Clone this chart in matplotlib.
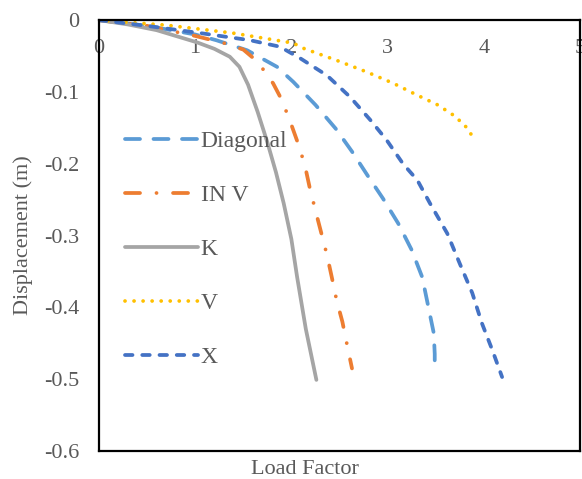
import matplotlib.pyplot as plt

plt.rcParams['font.family'] = ['Liberation Serif', 'DejaVu Serif']

TEXT_GREY = "#595959"

diagonal_x = [0, 0.5, 1.0, 1.22, 1.54, 1.85, 2.02, 2.25, 2.46, 2.63, 2.80, 2.95,
              3.11, 3.25, 3.36, 3.42, 3.48, 3.49, 3.49]
diagonal_y = [0, -0.008, -0.020, -0.028, -0.042, -0.065, -0.086, -0.118, -0.151,
              -0.183, -0.218, -0.248, -0.283, -0.320, -0.358, -0.397, -0.436,
              -0.465, -0.487]

inv_x = [0, 0.5, 1.0, 1.3, 1.5, 1.65, 1.81, 1.90, 1.99, 2.07, 2.14, 2.19, 2.25,
         2.31, 2.37, 2.42, 2.47, 2.53, 2.58, 2.63]
inv_y = [0, -0.008, -0.022, -0.032, -0.041, -0.058, -0.088, -0.111, -0.142,
         -0.172, -0.202, -0.233, -0.265, -0.296, -0.327, -0.358, -0.390, -0.420,
         -0.453, -0.485]

k_x = [0, 0.3, 0.6, 1.02, 1.2, 1.36, 1.46, 1.55, 1.65, 1.75, 1.84, 1.92, 2.0,
       2.06, 2.15, 2.26]
k_y = [0, -0.006, -0.014, -0.031, -0.040, -0.051, -0.065, -0.090, -0.128, -0.170,
       -0.212, -0.255, -0.305, -0.358, -0.430, -0.501]

v_x = [0, 0.7, 1.39, 2.02, 2.12, 2.47, 2.78, 3.06, 3.30, 3.52, 3.68, 3.80, 3.91]
v_y = [0, -0.007, -0.018, -0.032, -0.039, -0.056, -0.072, -0.088, -0.104, -0.118,
       -0.132, -0.146, -0.167]

x_x = [0, 0.5, 1.05, 1.57, 1.88, 2.09, 2.37, 2.61, 2.82, 2.99, 3.16, 3.31, 3.44,
       3.62, 3.75, 3.88, 3.98, 4.09, 4.19]
x_y = [0, -0.008, -0.018, -0.028, -0.037, -0.053, -0.077, -0.107, -0.139, -0.167,
       -0.200, -0.223, -0.255, -0.297, -0.339, -0.380, -0.422, -0.460, -0.497]

fig = plt.figure(figsize=(5.82, 4.79), dpi=100)
ax = fig.add_axes([0.170, 0.0585, 0.8266, 0.8995])

lw = 2.7
ax.plot(diagonal_x, diagonal_y, color="#5B9BD5", lw=lw, dashes=(4.0, 3.6),
        dash_capstyle="round", label="Diagonal")
ax.plot(inv_x, inv_y, color="#ED7D31", lw=lw, dashes=(4.0, 4.4, 0.01, 4.4),
        dash_capstyle="round", label="IN V")
ax.plot(k_x, k_y, color="#A5A5A5", lw=lw, solid_capstyle="round", label="K")
ax.plot(v_x, v_y, color="#FFC000", lw=lw, dashes=(0.01, 2.4),
        dash_capstyle="round", label="V")
ax.plot(x_x, x_y, color="#4472C4", lw=lw, dashes=(2.0, 2.6),
        dash_capstyle="round", label="X")

ax.set_xlim(0, 5)
ax.set_ylim(-0.6, 0)
ax.set_xticks([0, 1, 2, 3, 4, 5])
ax.set_yticks([0, -0.1, -0.2, -0.3, -0.4, -0.5, -0.6])
ax.set_yticklabels(["0", "-0.1", "-0.2", "-0.3", "-0.4", "-0.5", "-0.6"])

# x labels sit just under the top spine, Excel style
ax.tick_params(axis="x", bottom=False, labelbottom=False, top=True,
               labeltop=True, length=0, pad=-27, labelsize=16,
               labelcolor=TEXT_GREY)
ax.tick_params(axis="y", length=0, pad=14, labelsize=16, labelcolor=TEXT_GREY)

for spine in ax.spines.values():
    spine.set_color("black")
    spine.set_linewidth(1.6)

ax.set_xlabel("Load Factor", fontsize=16, color=TEXT_GREY)
ax.xaxis.set_label_coords(0.428, -0.022, transform=ax.transAxes)
ax.xaxis.label.set_va("top")
ax.set_ylabel("Displacement (m)", fontsize=16, color=TEXT_GREY, labelpad=8)

leg = ax.legend(loc="upper left", bbox_to_anchor=(0.035, 0.765), frameon=False,
                fontsize=17, handlelength=3.1, handletextpad=0.1,
                labelspacing=1.37, borderaxespad=0)
for text in leg.get_texts():
    text.set_color(TEXT_GREY)

fig.savefig("out.png", dpi=100)
